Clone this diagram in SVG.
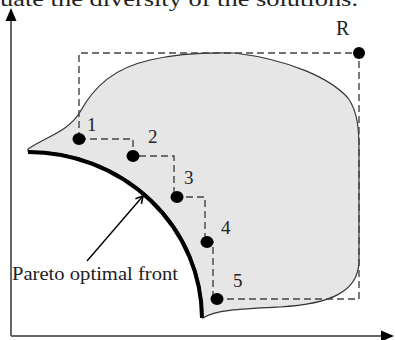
<svg xmlns="http://www.w3.org/2000/svg" width="395" height="340" viewBox="0 0 395 340">
<style>
.t{font-family:"Liberation Serif","Times New Roman",serif;fill:#222}
.n{font-size:19px}
.dash{fill:none;stroke:#444;stroke-width:1.4;stroke-dasharray:7 4}
.dot{fill:#000}
.axis{stroke:#666;stroke-width:2;fill:none}
</style>
<defs>
<marker id="open" markerWidth="10" markerHeight="10" refX="8" refY="5" orient="auto" markerUnits="userSpaceOnUse">
<polyline points="1,1 8,5 1,9" fill="none" stroke="#000" stroke-width="1.6"/>
</marker>
</defs>
<text class="t" x="0" y="6" font-size="22" textLength="358" lengthAdjust="spacingAndGlyphs">uate the diversity of the solutions.</text>
<g id="axes">
<line class="axis" x1="11" y1="20" x2="11" y2="336"/>
<line class="axis" x1="11" y1="336" x2="382" y2="336"/>
<polygon points="11,8 5.5,21 16.5,21" fill="#000"/>
<polygon points="394,336 381,330.5 381,341.5" fill="#000"/>
</g>
<g id="region">
<path d="M 28 149 C 45 137, 68 132, 80 112 C 95 85, 115 68, 150 60 C 175 54, 200 52, 235 53 C 290 60, 330 78, 348 98 C 358 112, 359 130, 359 150 L 359 262 C 358 292, 330 304, 280 307 C 240 309, 215 310, 203 318 A 174 167 0 0 0 28 151 Z" fill="#e6e6e6" stroke="#333" stroke-width="1.2"/>
</g>
<g id="pareto-front">
<path d="M 28 152 A 174 167 0 0 1 202 318" fill="none" stroke="#000" stroke-width="4"/>
</g>
<g id="connectors">
<path class="dash" d="M 79 139 L 79 53 L 359 53 L 359 299 L 217 299"/>
<path class="dash" d="M 79 139 L 133 139 L 133 156 L 174 156 L 174 197 L 205 197 L 205 242 L 213 242 L 213 299"/>
<line x1="87" y1="261" x2="143" y2="196" stroke="#000" stroke-width="1.4" marker-end="url(#open)"/>
</g>
<g id="R"><circle class="dot" cx="359" cy="53" r="6"/><text class="t" x="336" y="35" font-size="20">R</text></g>
<g id="p1"><ellipse class="dot" cx="79" cy="139" rx="6.5" ry="6"/><text class="t n" x="87" y="131">1</text></g>
<g id="p2"><ellipse class="dot" cx="133" cy="156" rx="6.5" ry="6"/><text class="t n" x="148" y="143">2</text></g>
<g id="p3"><ellipse class="dot" cx="177" cy="197" rx="6.5" ry="6"/><text class="t n" x="184" y="184">3</text></g>
<g id="p4"><ellipse class="dot" cx="207" cy="242" rx="6.5" ry="6"/><text class="t n" x="221" y="234">4</text></g>
<g id="p5"><ellipse class="dot" cx="217" cy="299" rx="6.5" ry="6"/><text class="t n" x="233" y="287">5</text></g>
<g id="label"><text class="t" x="12" y="280" font-size="18.5" textLength="166" lengthAdjust="spacingAndGlyphs">Pareto optimal front</text></g>
</svg>
